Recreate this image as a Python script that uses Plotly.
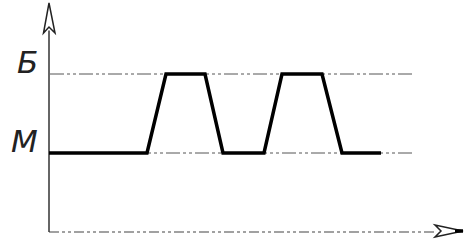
import plotly.graph_objects as go

# Data (time in arbitrary units, level: 1 = "М", 2 = "Б")
time_pts = [0, 9.8, 11.7, 15.6, 17.4, 21.5, 23.3, 27.3, 29.3, 33.2]
level_pts = [1, 1, 2, 2, 1, 1, 2, 2, 1, 1]
level_names = ["М", "Б"]
level_values = [1, 2]

W, H = 465, 243
X0, XPX = 49, 10.0   # origin pixel, px per unit
Y0, YPX = 232, 79.0

xr = [(0 - X0) / XPX, (W - X0) / XPX]
yr = [(Y0 - H) / YPX, Y0 / YPX]

def px(x):
    return x / W

def py(y):
    return 1 - y / H

fig = go.Figure()

dash = "14px,3px,3px,3px,3px,3px"
# reference level lines
for v in level_values:
    fig.add_trace(go.Scatter(x=[0.1, 36.5], y=[v, v], mode="lines",
                             line=dict(color="#555", width=1, dash=dash),
                             hoverinfo="skip", showlegend=False))
# x axis (dash-dot)
fig.add_trace(go.Scatter(x=[0, 38.6], y=[0, 0], mode="lines",
                         line=dict(color="#444", width=1.2, dash="10px,3px,3px,3px,3px,3px"),
                         hoverinfo="skip", showlegend=False))
# y axis
fig.add_trace(go.Scatter(x=[0, 0], y=[0, 2.55], mode="lines",
                         line=dict(color="#333", width=1.5),
                         hoverinfo="skip", showlegend=False))
# main signal
fig.add_trace(go.Scatter(x=time_pts, y=level_pts, mode="lines",
                         line=dict(color="#000", width=3.5),
                         hoverinfo="skip", showlegend=False))

# arrows (decorative)
ya = [(49, 3), (43.5, 33), (49, 27), (55, 33)]
path = "M " + " L ".join(f"{px(a)},{py(b)}" for a, b in ya) + " Z"
fig.add_shape(type="path", path=path, xref="paper", yref="paper",
              line=dict(color="#222", width=1.5), fillcolor="white")
xa = [(463, 231), (435, 225), (441, 231), (435, 237)]
path = "M " + " L ".join(f"{px(a)},{py(b)}" for a, b in xa) + " Z"
fig.add_shape(type="path", path=path, xref="paper", yref="paper",
              line=dict(color="#222", width=1.5), fillcolor="white")
fig.add_shape(type="line", xref="paper", yref="paper",
              x0=px(455), y0=py(231), x1=px(463), y1=py(231),
              line=dict(color="#000", width=3.5))

# level labels
offs = {1: -2.45, 2: -2.2}
for name, v in zip(level_names, level_values):
    fig.add_annotation(x=offs[v], y=v + 0.15, text=name, showarrow=False,
                       xanchor="center", yanchor="middle",
                       font=dict(family="DejaVu Sans, Liberation Sans", size=31,
                                 color="#222", style="italic", weight=200))

fig.update_layout(width=W, height=H, margin=dict(l=0, r=0, t=0, b=0),
                  plot_bgcolor="white", paper_bgcolor="white",
                  xaxis=dict(range=xr, visible=False, fixedrange=True),
                  yaxis=dict(range=yr, visible=False, fixedrange=True))

fig.write_html("out.html", config={"displayModeBar": False},
               post_script="document.body.style.margin='0';document.body.style.overflow='hidden';")
